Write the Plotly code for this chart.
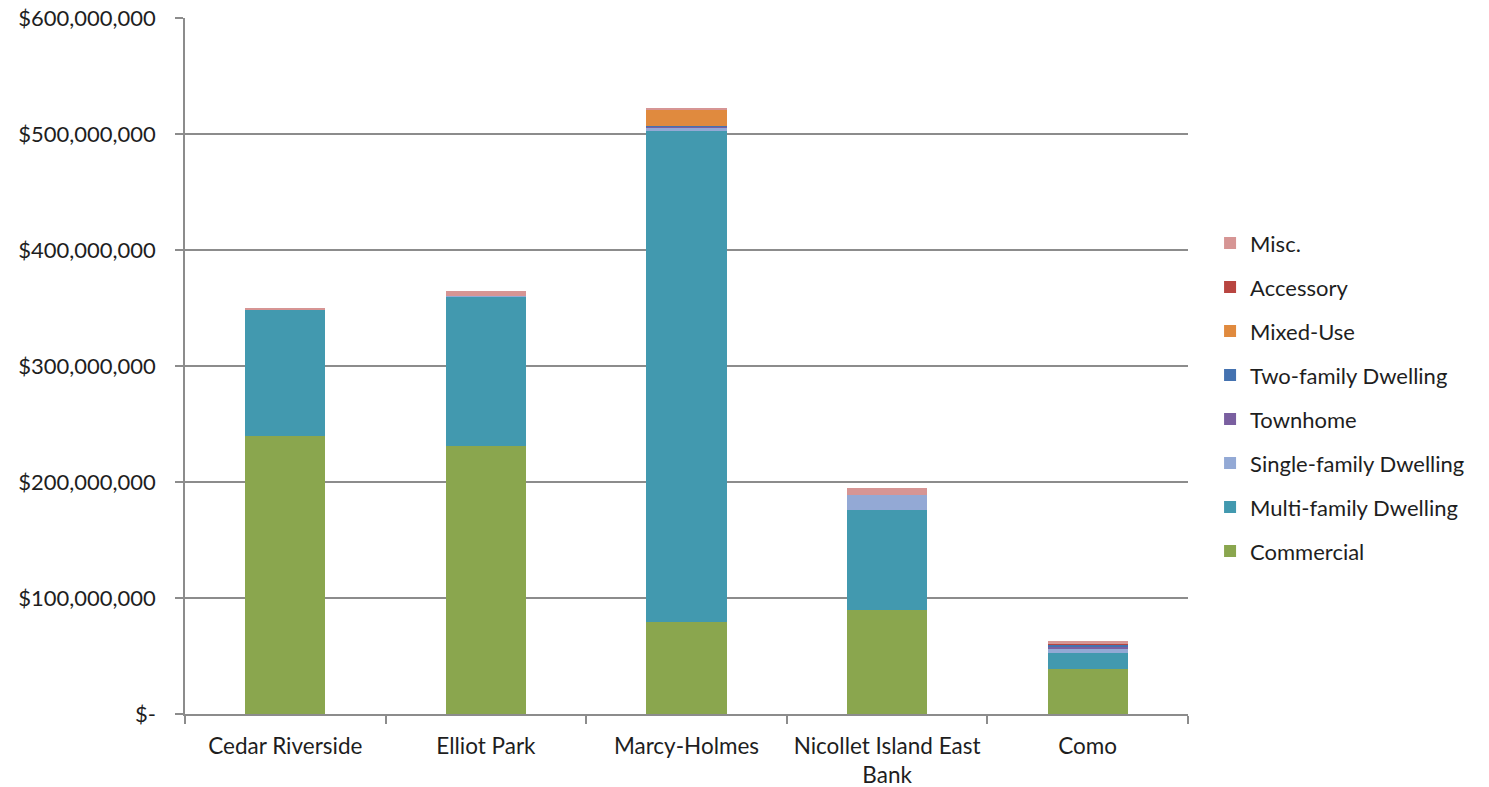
import plotly.graph_objects as go

# Neighbourhoods along the x axis
neighborhoods = ["Cedar Riverside", "Elliot Park", "Marcy-Holmes",
                 "Nicollet Island East<br>Bank", "Como"]

# Construction value by building type (US dollars)
commercial = [240_000_000, 231_000_000, 79_000_000, 90_000_000, 38_500_000]
multi_family = [109_000_000, 128_500_000, 423_500_000, 86_000_000, 14_000_000]
single_family = [0, 500_000, 3_500_000, 12_800_000, 4_300_000]
townhome = [0, 0, 500_000, 0, 1_500_000]
two_family = [0, 0, 500_000, 0, 1_500_000]
mixed_use = [0, 0, 13_500_000, 0, 0]
accessory = [0, 0, 0, 400_000, 300_000]
misc = [1_000_000, 4_500_000, 2_000_000, 5_800_000, 2_700_000]

series = [
    ("Commercial", commercial, "#8AA64E"),
    ("Multi-family Dwelling", multi_family, "#4299AF"),
    ("Single-family Dwelling", single_family, "#93A9D5"),
    ("Townhome", townhome, "#7A5FA0"),
    ("Two-family Dwelling", two_family, "#4472B0"),
    ("Mixed-Use", mixed_use, "#E08A3E"),
    ("Accessory", accessory, "#B84540"),
    ("Misc.", misc, "#D69594"),
]

y_ticks = [0, 100_000_000, 200_000_000, 300_000_000, 400_000_000,
           500_000_000, 600_000_000]
y_tick_text = ["$-", "$100,000,000", "$200,000,000", "$300,000,000",
               "$400,000,000", "$500,000,000", "$600,000,000"]

fig = go.Figure()
n = len(series)
for i, (name, values, color) in enumerate(series):
    fig.add_trace(go.Bar(
        name=name, x=neighborhoods, y=values,
        marker=dict(color=color, line=dict(width=0)),
        legendgroup=name,
        legendrank=n - i,  # top of the stack listed first
    ))

font_family = "Lato, 'Open Sans', sans-serif"
axis_grey = "#8C8C8C"

fig.update_layout(
    barmode="stack",
    bargap=0.6,
    width=1489, height=787,
    margin=dict(l=185, r=301, t=18, b=73, autoexpand=False),
    paper_bgcolor="white", plot_bgcolor="white",
    font=dict(family=font_family, size=22, color="#1E1E1E"),
    showlegend=True,
    legend=dict(
        x=1.022, xanchor="left", y=0.455, yanchor="middle",
        traceorder="grouped", tracegroupgap=12.4,
        font=dict(size=22, color="#1E1E1E"),
        itemwidth=30,
    ),
    xaxis=dict(
        automargin=False,
        showline=True, linecolor=axis_grey, linewidth=1.5,
        ticks="outside", tickson="boundaries", ticklen=8,
        tickcolor=axis_grey, tickwidth=1.5,
        tickfont=dict(size=22.5), tickangle=0, ticklabelstandoff=11,
        showgrid=False,
    ),
    yaxis=dict(
        automargin=False,
        range=[0, 600_000_000],
        tickvals=y_ticks, ticktext=y_tick_text,
        showline=True, linecolor=axis_grey, linewidth=1.5,
        ticks="outside", ticklen=8, tickcolor=axis_grey, tickwidth=1.5,
        showgrid=True, gridcolor=axis_grey, gridwidth=1.5,
        tickfont=dict(size=22), ticklabelstandoff=15,
        zeroline=False,
    ),
)

fig.write_html("out.html")
